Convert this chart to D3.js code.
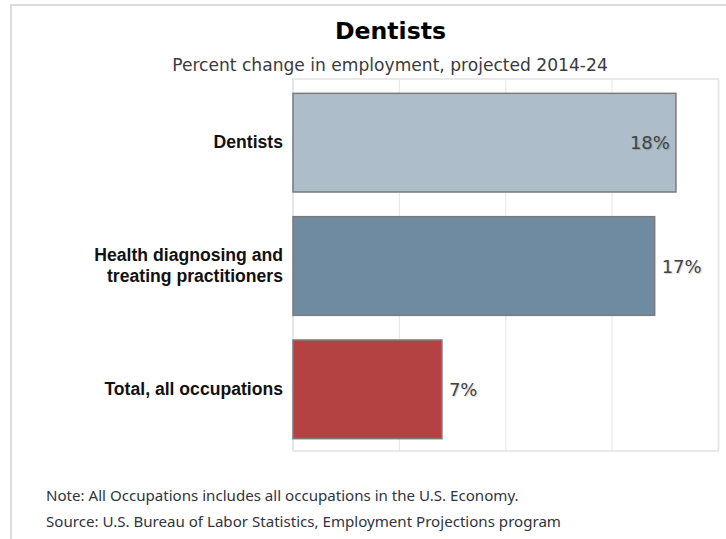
<!DOCTYPE html>
<html>
<head>
<meta charset="utf-8">
<script src="https://cdn.jsdelivr.net/npm/d3@7"></script>
<style>
  html, body { margin: 0; padding: 0; background: #fff; }
  svg { display: block; }
</style>
</head>
<body>
<svg id="chart" width="726" height="539"></svg>
<script>
const categories = [
  ["Dentists"],
  ["Health diagnosing and", "treating practitioners"],
  ["Total, all occupations"]
];
const values = [18, 17, 7];
const barColors = ["#adbdc9", "#6f8ba1", "#b54243"];
const xTicks = [0, 5, 10, 15, 20];
const title = "Dentists";
const subtitle = "Percent change in employment, projected 2014-24";
const notes = [
  "Note: All Occupations includes all occupations in the U.S. Economy.",
  "Source: U.S. Bureau of Labor Statistics, Employment Projections program"
];

const svg = d3.select("#chart");

// outer panel border
svg.append("rect")
  .attr("x", 11).attr("y", 5).attr("width", 900).attr("height", 900)
  .attr("fill", "none").attr("stroke", "#dcdcdc").attr("stroke-width", 2);

const plot = { left: 293, right: 718.5, top: 79, bottom: 451 };

const x = d3.scaleLinear().domain([0, 20]).range([plot.left, plot.right]);
const y = d3.scaleBand()
  .domain(d3.range(values.length))
  .range([81, plot.bottom])
  .paddingInner(0.2).paddingOuter(0.1);

// gridlines
svg.append("g").selectAll("line")
  .data(xTicks)
  .join("line")
  .attr("x1", d => x(d)).attr("x2", d => x(d))
  .attr("y1", plot.top).attr("y2", plot.bottom)
  .attr("stroke", "#e9e9e9").attr("stroke-width", 1.2);

// plot frame
svg.append("rect")
  .attr("x", plot.left).attr("y", plot.top)
  .attr("width", plot.right - plot.left).attr("height", plot.bottom - plot.top)
  .attr("fill", "none").attr("stroke", "#e2e2e2").attr("stroke-width", 1.5);

// bars
svg.append("g").selectAll("rect")
  .data(values)
  .join("rect")
  .attr("x", x(0))
  .attr("y", (d, i) => y(i))
  .attr("width", d => x(d) - x(0))
  .attr("height", y.bandwidth())
  .attr("fill", (d, i) => barColors[i])
  .attr("stroke", "#7b7b7b").attr("stroke-width", 1.5);

// value labels
const vl = svg.append("g").selectAll("text")
  .data(values)
  .join("text")
  .attr("y", (d, i) => y(i) + y.bandwidth() / 2)
  .attr("dy", "0.37em")
  .attr("font-family", "DejaVu Sans, sans-serif")
  .attr("font-size", 18)
  .attr("fill", "#444")
  .style("text-shadow", "1px 1px 1px rgba(0,0,0,0.18)")
  .text(d => d + "%");
vl.each(function(d) {
  const w = this.getComputedTextLength();
  const end = x(d);
  const t = d3.select(this);
  if (end + 7 + w > plot.right) {
    t.attr("x", end - 6).attr("text-anchor", "end");
  } else {
    t.attr("x", end + 7).attr("text-anchor", "start");
  }
});

// category labels
const cl = svg.append("g").selectAll("text")
  .data(categories)
  .join("text")
  .attr("text-anchor", "end")
  .attr("font-family", "Liberation Sans, Arial, sans-serif")
  .attr("font-weight", "bold")
  .attr("font-size", 17.6)
  .attr("fill", "#111");
cl.each(function(lines, i) {
  const t = d3.select(this);
  const lh = 20.6;
  const cy = y(i) + y.bandwidth() / 2;
  lines.forEach((ln, j) => {
    t.append("tspan")
      .attr("x", 283)
      .attr("y", cy + (j - (lines.length - 1) / 2) * lh + 5.5)
      .text(ln);
  });
});

// title & subtitle
svg.append("text")
  .attr("x", 390.5).attr("y", 38.5)
  .attr("text-anchor", "middle")
  .attr("font-family", "DejaVu Sans, sans-serif")
  .attr("font-weight", "bold")
  .attr("font-size", 23.6)
  .attr("fill", "#000")
  .text(title);

svg.append("text")
  .attr("x", 390).attr("y", 70.5)
  .attr("text-anchor", "middle")
  .attr("font-family", "DejaVu Sans, sans-serif")
  .attr("font-size", 17.1)
  .attr("fill", "#3a3a40")
  .text(subtitle);

// notes
svg.append("g").selectAll("text")
  .data(notes)
  .join("text")
  .attr("x", 46)
  .attr("y", (d, i) => 501 + i * 26)
  .attr("font-family", "Noto Sans, sans-serif")
  .attr("font-size", 15.1)
  .attr("fill", "#2e3440")
  .text(d => d);
</script>
</body>
</html>
